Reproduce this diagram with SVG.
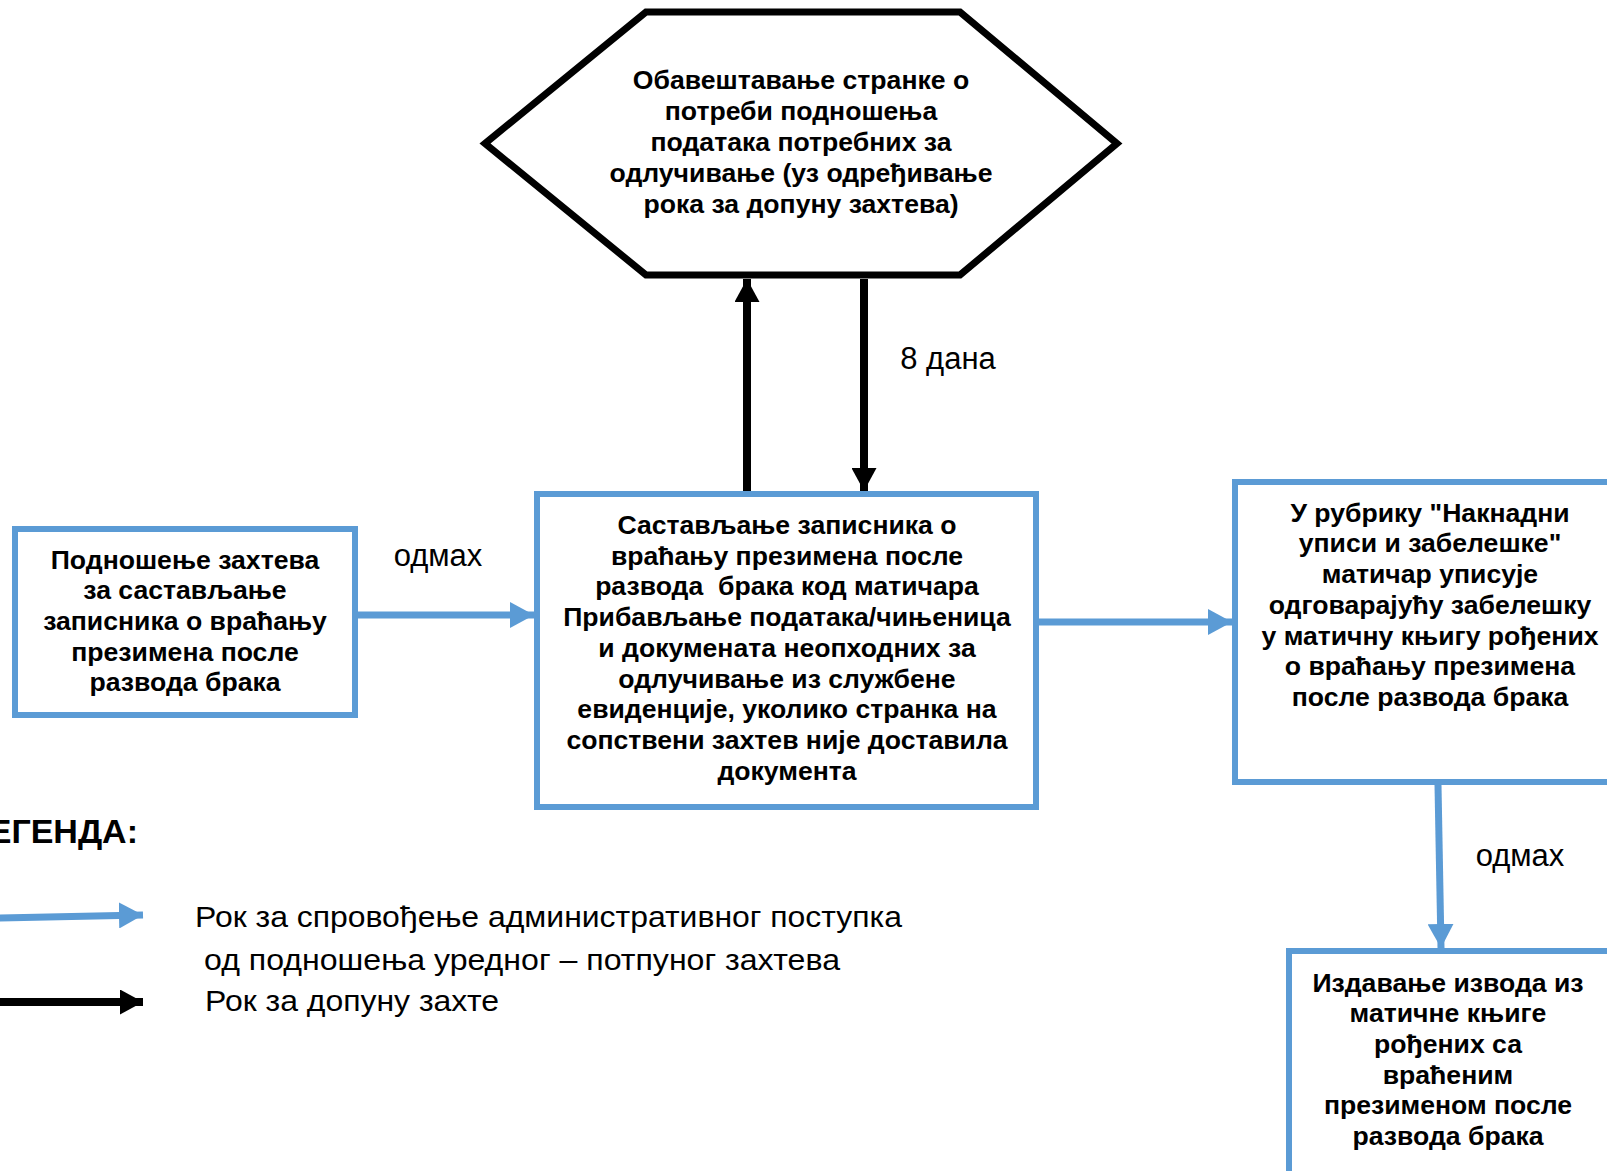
<svg xmlns="http://www.w3.org/2000/svg" width="1607" height="1171" viewBox="0 0 1607 1171">
<defs>
<style>
.box{fill:#fff;stroke:#5B9BD5;stroke-width:6}
.hex{fill:#fff;stroke:#000;stroke-width:7;stroke-linejoin:miter}
.t{font-family:"Liberation Sans",Arial,sans-serif;font-weight:bold;font-size:26.6px;fill:#000;text-anchor:middle}
.lbl{font-family:"Liberation Sans",Arial,sans-serif;font-size:31px;fill:#000;text-anchor:middle}
.leg{font-family:"Liberation Sans",Arial,sans-serif;font-size:30px;fill:#000}
.blue{stroke:#5B9BD5;stroke-width:7;fill:none}
.black{stroke:#000;stroke-width:8;fill:none}
</style>
<marker id="ab" markerUnits="userSpaceOnUse" markerWidth="24" markerHeight="26" refX="24" refY="13" orient="auto">
<path d="M0,0 L24,13 L0,26 z" fill="#5B9BD5"/>
</marker>
<marker id="ak" markerUnits="userSpaceOnUse" markerWidth="23" markerHeight="25" refX="23" refY="12.5" orient="auto">
<path d="M0,0 L23,12.5 L0,25 z" fill="#000"/>
</marker>
</defs>
<rect width="1607" height="1171" fill="#fff"/>

<g id="connectors">
<line class="blue" x1="358" y1="615" x2="534" y2="615" marker-end="url(#ab)"/>
<line class="blue" x1="1039" y1="622" x2="1232" y2="622" marker-end="url(#ab)"/>
<line class="blue" x1="1438" y1="785" x2="1441" y2="948" marker-end="url(#ab)"/>
<line class="black" x1="747" y1="491" x2="747" y2="279" marker-end="url(#ak)"/>
<line class="black" x1="864" y1="279" x2="864" y2="491" marker-end="url(#ak)"/>
<text class="lbl" x="438" y="566">одмах</text>
<text class="lbl" x="948" y="369">8 дана</text>
<text class="lbl" x="1520" y="866">одмах</text>
</g>

<g id="hex">
<polygon class="hex" points="485,143.5 646,12 960,12 1117,143.5 960,275 646,275"/>
<text class="t" x="801" y="89">Обавештавање странке о</text>
<text class="t" x="801" y="120">потреби подношења</text>
<text class="t" x="801" y="151">података потребних за</text>
<text class="t" x="801" y="182">одлучивање (уз одређивање</text>
<text class="t" x="801" y="213">рока за допуну захтева)</text>
</g>

<g id="n1">
<rect class="box" x="15" y="529" width="340" height="186"/>
<text class="t" x="185" y="569">Подношење захтева</text>
<text class="t" x="185" y="599">за састављање</text>
<text class="t" x="185" y="630">записника о враћању</text>
<text class="t" x="185" y="661">презимена после</text>
<text class="t" x="185" y="691">развода брака</text>
</g>

<g id="n2">
<rect class="box" x="537" y="494" width="499" height="313"/>
<text class="t" x="787" y="534">Састављање записника о</text>
<text class="t" x="787" y="565">враћању презимена после</text>
<text class="t" x="787" y="595" xml:space="preserve">развода  брака код матичара</text>
<text class="t" x="787" y="626">Прибављање података/чињеница</text>
<text class="t" x="787" y="657">и докумената неопходних за</text>
<text class="t" x="787" y="688">одлучивање из службене</text>
<text class="t" x="787" y="718">евиденције, уколико странка на</text>
<text class="t" x="787" y="749">сопствени захтев није доставила</text>
<text class="t" x="787" y="780">документа</text>
</g>

<g id="n3">
<rect class="box" x="1235" y="482" width="390" height="300"/>
<text class="t" x="1430" y="522">У рубрику "Накнадни</text>
<text class="t" x="1430" y="552">уписи и забелешке"</text>
<text class="t" x="1430" y="583">матичар уписује</text>
<text class="t" x="1430" y="614">одговарајућу забелешку</text>
<text class="t" x="1430" y="645">у матичну књигу рођених</text>
<text class="t" x="1430" y="675">о враћању презимена</text>
<text class="t" x="1430" y="706">после развода брака</text>
</g>

<g id="n4">
<rect class="box" x="1289" y="951" width="330" height="240"/>
<text class="t" x="1448" y="992">Издавање извода из</text>
<text class="t" x="1448" y="1022">матичне књиге</text>
<text class="t" x="1448" y="1053">рођених са</text>
<text class="t" x="1448" y="1084">враћеним</text>
<text class="t" x="1448" y="1114">презименом после</text>
<text class="t" x="1448" y="1145">развода брака</text>
</g>

<g id="legend">
<text x="138" y="843" font-family="Liberation Sans,Arial,sans-serif" font-weight="bold" font-size="34" text-anchor="end">ЛЕГЕНДА:</text>
<line class="blue" x1="-5" y1="918" x2="143" y2="915" marker-end="url(#ab)"/>
<line class="black" x1="-5" y1="1002" x2="143" y2="1002" marker-end="url(#ak)"/>
<text class="leg" x="195" y="927" textLength="707" lengthAdjust="spacingAndGlyphs">Рок за спровођење административног поступка</text>
<text class="leg" x="204" y="970" textLength="636" lengthAdjust="spacingAndGlyphs">од подношења уредног – потпуног захтева</text>
<text class="leg" x="205" y="1011" textLength="294" lengthAdjust="spacingAndGlyphs">Рок за допуну захте</text>
</g>
</svg>
